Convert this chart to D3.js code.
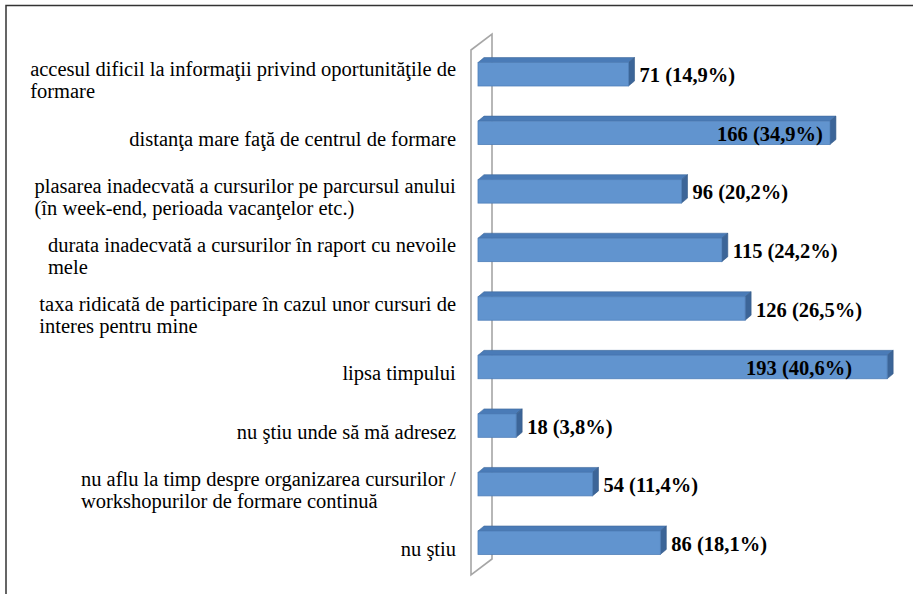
<!DOCTYPE html>
<html>
<head>
<meta charset="utf-8">
<script src="https://cdn.jsdelivr.net/npm/d3@7"></script>
</head>
<body style="margin:0">
<div id="app"></div>
<script>
const categories = [
  'accesul dificil la informaţii privind oportunităţile de\nformare',
  'distanţa mare faţă de centrul de formare',
  'plasarea inadecvată a cursurilor pe parcursul anului\n(în week-end, perioada vacanţelor etc.)',
  'durata inadecvată a cursurilor în raport cu nevoile\nmele',
  'taxa ridicată de participare în cazul unor cursuri de\ninteres pentru mine',
  'lipsa timpului',
  'nu ştiu unde să mă adresez',
  'nu aflu la timp despre organizarea cursurilor /\nworkshopurilor de formare continuă',
  'nu ştiu'
]
const counts = [71, 166, 96, 115, 126, 193, 18, 54, 86]
const percents = ['14,9%', '34,9%', '20,2%', '24,2%', '26,5%', '40,6%', '3,8%', '11,4%', '18,1%']

const fonts = ['Times New Roman', 'Liberation Serif']
const width = 913
const height = 594
const depth = { dx: 6, dy: -5 }
const labelRight = 456
const labelMaxX = 852

const svg = d3.select('#app').append('svg')
  .attr('width', width)
  .attr('height', height)

// outer frame (top and left only)
svg.append('path')
  .attr('d', 'M6,594 L6,5.5 L913,5.5')
  .attr('fill', 'none')
  .attr('stroke', '#333')
  .attr('stroke-width', 1.5)

const x = d3.scaleLinear().domain([0, 200]).range([478, 902])
const y = d3.scaleBand().domain(d3.range(categories.length))
  .range([45, 572]).paddingInner(0.6).paddingOuter(0.3)

// side wall
const wx = x(0) - 7
const wall = { top: 50, bottom: 575, dx: 21, dy: -16 }
svg.append('path')
  .attr('d', `M${wx},${wall.top} L${wx + wall.dx},${wall.top + wall.dy} L${wx + wall.dx},${wall.bottom + wall.dy} L${wx},${wall.bottom} Z`)
  .attr('fill', '#fff')
  .attr('stroke', '#a6a6a6')
  .attr('stroke-width', 1.6)

const bars = svg.selectAll('g.bar')
  .data(counts)
  .enter().append('g')
  .attr('class', 'bar')

bars.append('path')
  .attr('d', (d, i) => {
    const x0 = x(0), x1 = x(d), y0 = y(i)
    return `M${x0},${y0} L${x0 + depth.dx},${y0 + depth.dy} L${x1 + depth.dx},${y0 + depth.dy} L${x1},${y0} Z`
  })
  .attr('fill', '#4a7bb7')
  .attr('stroke', '#40699c')
  .attr('stroke-width', 0.6)

bars.append('path')
  .attr('d', (d, i) => {
    const x1 = x(d), y0 = y(i), y1 = y(i) + y.bandwidth()
    return `M${x1},${y0} L${x1 + depth.dx},${y0 + depth.dy} L${x1 + depth.dx},${y1 + depth.dy} L${x1},${y1} Z`
  })
  .attr('fill', '#3c6598')
  .attr('stroke', '#355a88')
  .attr('stroke-width', 0.6)

bars.append('rect')
  .attr('x', x(0))
  .attr('y', (d, i) => y(i))
  .attr('width', d => x(d) - x(0))
  .attr('height', y.bandwidth())
  .attr('fill', '#6194cf')
  .attr('stroke', '#4f7fb9')
  .attr('stroke-width', 0.8)

const fontOf = () => fonts.map(f => `'${f}'`).join(', ')

// value labels: outside the bar, or inside at the end when they would not fit
const fits = (d, i) => x(d) + depth.dx + 5 + `${d} (${percents[i]})`.length * 9.2 < 905
svg.selectAll('text.val')
  .data(counts)
  .enter().append('text')
  .attr('x', (d, i) => fits(d, i) ? x(d) + depth.dx + 5 : Math.min(x(d) - 7, labelMaxX))
  .attr('y', (d, i) => y(i) + y.bandwidth() / 2 + 8)
  .style('font-family', fontOf)
  .style('font-size', '20.5px')
  .style('font-weight', 'bold')
  .attr('text-anchor', (d, i) => fits(d, i) ? 'start' : 'end')
  .text((d, i) => `${d} (${percents[i]})`)

// category labels
const lineH = 22
const cats = svg.selectAll('text.cat')
  .data(categories)
  .enter().append('text')
  .attr('class', 'cat')
  .style('font-family', fontOf)
  .style('font-size', '20.5px')
  .attr('text-anchor', 'end')

cats.each(function (c, i) {
  const lines = c.split('\n')
  const cy = y(i) + y.bandwidth() / 2 + 7
  lines.forEach((s, j) => {
    d3.select(this).append('tspan')
      .attr('x', labelRight)
      .attr('y', cy + (j - (lines.length - 1) / 2) * lineH + 6)
      .text(s)
  })
})

// left-align the lines of each block against its widest line
document.fonts.ready.then(() => {
  cats.each(function () {
    const t = d3.select(this)
    const w = this.getBBox().width
    t.attr('text-anchor', 'start')
    t.selectAll('tspan').attr('x', labelRight - w)
  })
})
</script>
</body>
</html>
